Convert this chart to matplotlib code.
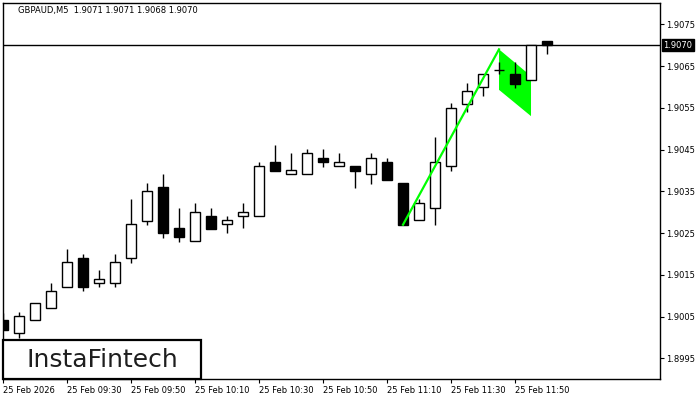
import matplotlib
matplotlib.use("Agg")
import matplotlib.pyplot as plt
from matplotlib.patches import Rectangle, Polygon
import matplotlib.transforms as mtransforms

# GBPAUD M5 candles, 25 Feb 09:10 .. 12:00
opens  = [1.90042, 1.90010, 1.90041, 1.90070, 1.90120, 1.90190, 1.90130, 1.90130,
          1.90190, 1.90280, 1.90360, 1.90261, 1.90231, 1.90290, 1.90271, 1.90290,
          1.90290, 1.90420, 1.90391, 1.90391, 1.90430, 1.90410, 1.90411, 1.90391,
          1.90420, 1.90370, 1.90281, 1.90309, 1.90411, 1.90560, 1.90599, 1.90640,
          1.90631, 1.90617, 1.90710]
highs  = [1.90059, 1.90062, 1.90082, 1.90130, 1.90211, 1.90199, 1.90162, 1.90199,
          1.90331, 1.90370, 1.90391, 1.90310, 1.90322, 1.90309, 1.90291, 1.90322,
          1.90420, 1.90461, 1.90442, 1.90451, 1.90451, 1.90442, 1.90411, 1.90442,
          1.90430, 1.90370, 1.90332, 1.90480, 1.90561, 1.90609, 1.90631, 1.90659,
          1.90659, 1.90700, 1.90710]
lows   = [1.90018, 1.89999, 1.90041, 1.90070, 1.90120, 1.90110, 1.90120, 1.90120,
          1.90179, 1.90270, 1.90239, 1.90229, 1.90231, 1.90260, 1.90249, 1.90261,
          1.90290, 1.90399, 1.90391, 1.90391, 1.90409, 1.90410, 1.90359, 1.90368,
          1.90378, 1.90270, 1.90281, 1.90270, 1.90399, 1.90539, 1.90579, 1.90631,
          1.90597, 1.90617, 1.90680]
closes = [1.90018, 1.90051, 1.90082, 1.90111, 1.90180, 1.90120, 1.90139, 1.90180,
          1.90271, 1.90350, 1.90249, 1.90240, 1.90300, 1.90260, 1.90281, 1.90300,
          1.90411, 1.90399, 1.90400, 1.90442, 1.90419, 1.90419, 1.90399, 1.90430,
          1.90378, 1.90270, 1.90321, 1.90420, 1.90549, 1.90590, 1.90631, 1.90640,
          1.90608, 1.90700, 1.90700]

time_ticks = [0, 4, 8, 12, 16, 20, 24, 28, 32]
time_labels = ["25 Feb 2026", "25 Feb 09:30", "25 Feb 09:50", "25 Feb 10:10",
               "25 Feb 10:30", "25 Feb 10:50", "25 Feb 11:10", "25 Feb 11:30",
               "25 Feb 11:50"]
price_ticks = [1.8995, 1.9005, 1.9015, 1.9025, 1.9035, 1.9045, 1.9055, 1.9065, 1.9075]
last_price = 1.9070

# bullish flag: pole and flag body
pole_x = [25, 31]
pole_y = [1.9027, 1.9069]
flag_x = [31, 33, 33, 31]
flag_y = [1.9069, 1.90626, 1.9053, 1.90593]

title = "GBPAUD,M5  1.9071 1.9071 1.9068 1.9070"

plt.rcParams['font.family'] = ['DejaVu Sans']

fig = plt.figure(figsize=(7, 4), dpi=100)
W, H = 700.0, 400.0
ax = fig.add_axes([2.5 / W, 1 - 379 / H, (659.5 - 2.5) / W, (379 - 2.5) / H])

# flag body sits under the candles
ax.add_patch(Polygon(list(zip(flag_x, flag_y)), closed=True,
                     facecolor="#00ff00", edgecolor="none", zorder=1.5))

# candles
for i in range(len(opens)):
    o, h, l, c = opens[i], highs[i], lows[i], closes[i]
    ax.vlines(i, l, h, color="black", lw=1, zorder=2)
    up = c >= o
    ax.bar(i, abs(c - o), bottom=min(o, c), width=0.66,
           facecolor="white" if up else "black", edgecolor="black",
           linewidth=1, zorder=3)

# pole on top
ax.plot(pole_x, pole_y, color="#00ff00", lw=1.6, zorder=5)

# current price line
ax.axhline(last_price, color="black", lw=1, zorder=1)

ax.set_xlim(-0.03, 41.03)
ax.set_ylim(1.899004, 1.908022)

ax.yaxis.tick_right()
ax.set_yticks(price_ticks)
ax.set_yticklabels(["%.4f" % p for p in price_ticks])
ax.set_xticks(time_ticks)
ax.set_xticklabels(time_labels, ha="left")
ax.tick_params(axis="both", labelsize=6, length=3, width=0.8, pad=2, colors="black")

for s in ax.spines.values():
    s.set_linewidth(1)

# price label box on the right
trans = mtransforms.blended_transform_factory(ax.transAxes, ax.transData)
ax.text(1.006, last_price, "%.4f" % last_price, transform=trans, fontsize=6,
        color="white", va="center", ha="left",
        bbox=dict(boxstyle="square,pad=0.2", facecolor="black", edgecolor="black"),
        zorder=10, clip_on=False)

fig.text(18 / W, 1 - 11 / H, title, fontsize=6, va="center", ha="left")

# logo box
fig.patches.append(Rectangle((3 / W, 1 - 379 / H), 198 / W, 39 / H,
                             transform=fig.transFigure, facecolor="white",
                             edgecolor="black", lw=1.6, zorder=20))
fig.text(102 / W, 1 - 360 / H, "InstaFintech", fontsize=18, color="#1e1e1e",
         va="center", ha="center", zorder=21)

fig.savefig("out.png", dpi=100)
